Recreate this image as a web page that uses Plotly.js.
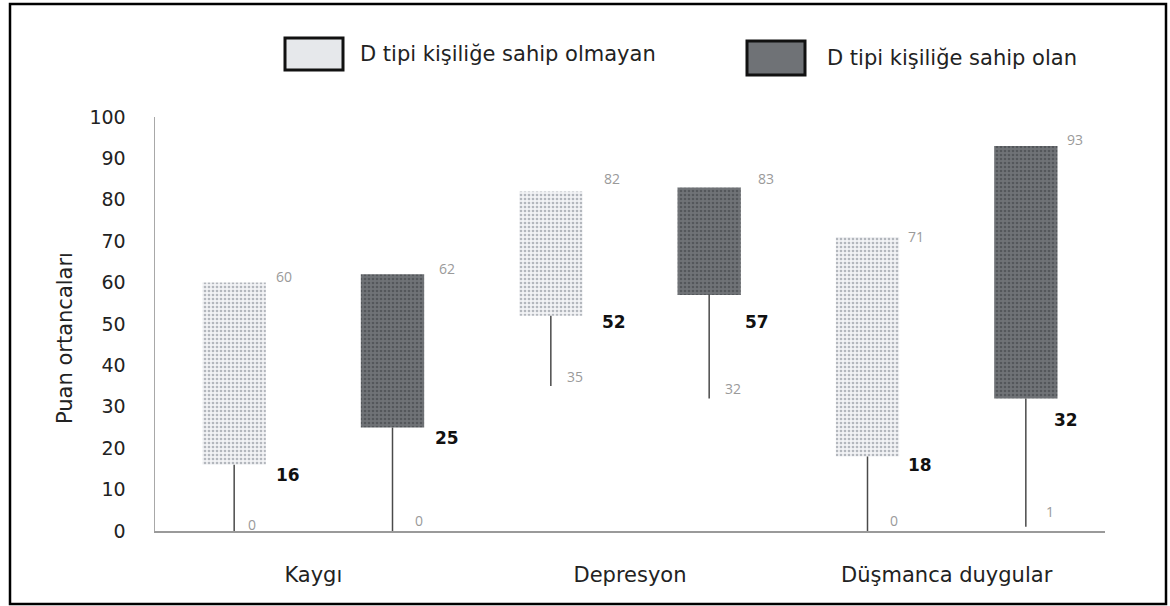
<!DOCTYPE html>
<html>
<head>
<meta charset="utf-8">
<script src="https://cdn.plot.ly/plotly-3.0.1.min.js"></script>
<style>html,body{margin:0;padding:0;background:#fff;}#chart{width:1170px;height:606px;}</style>
</head>
<body>
<div id="chart"></div>
<script>
// ---- data ----
const categories = ["Kaygı", "Depresyon", "Düşmanca duygular"];
const seriesNames = ["D tipi kişiliğe sahip olmayan", "D tipi kişiliğe sahip olan"];
const minNo  = [0, 35, 0];
const medNo  = [16, 52, 18];
const maxNo  = [60, 82, 71];
const minYes = [0, 32, 1];
const medYes = [25, 57, 32];
const maxYes = [62, 83, 93];
const yTicks = [0, 10, 20, 30, 40, 50, 60, 70, 80, 90, 100];
const yTitle = "Puan ortancaları";

// ---- layout geometry (pixels) ----
const W = 1170, H = 606;
const M = {l: 155, r: 65, t: 117, b: 75};
const PW = W - M.l - M.r, PH = H - M.t - M.b;
const px = v => (v - M.l) / PW;
const py = v => (H - M.b - v) / PH;
const OFF = 0.25, BW = 0.2;
const FONT = "DejaVu Sans, Open Sans, sans-serif";
const FONT2 = "Open Sans, DejaVu Sans, sans-serif";

const groups = [
  {name: seriesNames[0], mn: minNo, md: medNo, mx: maxNo, off: -OFF,
   fill: "#f2f3f5", dot: "#b3b7bd",
   maxShift: [[8,6],[19,13],[7,1]], medShift: [[8,-10],[17,-6],[7,-9]], minShift: [[12,7],[14,10],[20,11]]},
  {name: seriesNames[1], mn: minYes, md: medYes, mx: maxYes, off: OFF,
   fill: "#707377", dot: "#54575b",
   maxShift: [[13,6],[15,9],[7,6]], medShift: [[9,-10],[2,-27],[-6,-21]], minShift: [[20,11],[14,10],[18,15]]}
];

const traces = [];
const annotations = [];
groups.forEach(g => {
  const xs = categories.map((c, i) => i + g.off);
  traces.push({
    type: "bar", x: xs, y: g.mx.map((v, i) => v - g.md[i]), base: g.md, width: BW,
    name: g.name, showlegend: false, hoverinfo: "skip",
    marker: {color: g.fill, line: {width: 0},
      pattern: {shape: ".", fgcolor: g.dot, bgcolor: g.fill, size: 4, solidity: 0.35}}
  });
  const lx = [], ly = [];
  xs.forEach((x, i) => { lx.push(x, x, null); ly.push(g.mn[i], g.md[i], null); });
  traces.push({type: "scatter", mode: "lines", x: lx, y: ly, showlegend: false, hoverinfo: "skip",
    line: {color: "#4a4a4a", width: 1.5}});
  xs.forEach((x, i) => {
    annotations.push({xref: "x", yref: "y", x: x + BW / 2, y: g.mx[i], text: String(g.mx[i]),
      xanchor: "left", yanchor: "middle", showarrow: false, xshift: g.maxShift[i][0], yshift: g.maxShift[i][1],
      font: {family: FONT2, size: 14, color: "#9a9a9a"}});
    annotations.push({xref: "x", yref: "y", x: x + BW / 2, y: g.md[i], text: "<b>" + g.md[i] + "</b>",
      xanchor: "left", yanchor: "middle", showarrow: false, xshift: g.medShift[i][0], yshift: g.medShift[i][1],
      font: {family: FONT, size: 17, color: "#111"}});
    annotations.push({xref: "x", yref: "y", x: x, y: g.mn[i], text: String(g.mn[i]),
      xanchor: "left", yanchor: "middle", showarrow: false, xshift: g.minShift[i][0], yshift: g.minShift[i][1],
      font: {family: FONT2, size: 14, color: "#9a9a9a"}});
  });
});

// y-axis title
annotations.push({xref: "paper", yref: "paper", x: px(65), y: py(338), text: yTitle, textangle: -90,
  showarrow: false, xanchor: "center", yanchor: "middle", font: {family: FONT, size: 21, color: "#222"}});
// legend texts
annotations.push({xref: "paper", yref: "paper", x: px(358), y: py(54), text: seriesNames[0],
  showarrow: false, xanchor: "left", yanchor: "middle", font: {family: FONT, size: 21, color: "#222"}});
annotations.push({xref: "paper", yref: "paper", x: px(825), y: py(58), text: seriesNames[1],
  showarrow: false, xanchor: "left", yanchor: "middle", font: {family: FONT, size: 21, color: "#222"}});

const shapes = [
  {type: "rect", xref: "paper", yref: "paper", x0: px(285), x1: px(343), y0: py(70), y1: py(38),
   fillcolor: "#e6e8eb", line: {color: "#111", width: 3}},
  {type: "rect", xref: "paper", yref: "paper", x0: px(747), x1: px(805), y0: py(75), y1: py(41),
   fillcolor: "#6f7276", line: {color: "#111", width: 3}},
  {type: "rect", xref: "paper", yref: "paper", x0: px(10), x1: px(1166), y0: py(604), y1: py(4),
   fillcolor: "rgba(0,0,0,0)", line: {color: "#000", width: 2.5}, layer: "below"}
];

const layout = {
  width: W, height: H, margin: M, paper_bgcolor: "#fff", plot_bgcolor: "#fff",
  showlegend: false, barmode: "overlay",
  xaxis: {range: [-0.5, 2.5], tickvals: categories.map((c, i) => i), ticktext: categories,
    showgrid: false, zeroline: false, showline: true, linecolor: "#9a9a9a", linewidth: 1.5,
    ticks: "", ticklabelstandoff: 24, tickfont: {family: FONT, size: 21, color: "#222"}, fixedrange: true},
  yaxis: {range: [0, 100], tickvals: yTicks, ticktext: yTicks.map(String),
    showgrid: false, zeroline: false, showline: true, linecolor: "#a8a8a8", linewidth: 1.5,
    ticks: "", ticklabelstandoff: 24, tickfont: {family: FONT, size: 19, color: "#222"}, fixedrange: true},
  annotations: annotations, shapes: shapes
};

Plotly.newPlot("chart", traces, layout, {displayModeBar: false, staticPlot: true});
</script>
</body>
</html>
